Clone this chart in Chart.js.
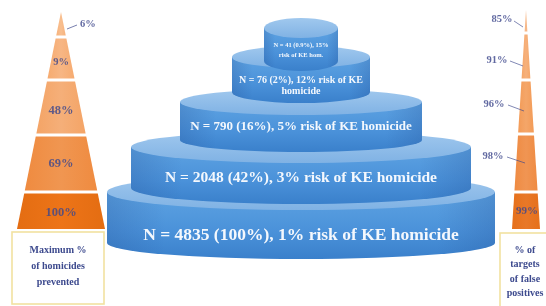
<!DOCTYPE html>
<html>
<head>
<meta charset="utf-8">
<script src="https://cdn.jsdelivr.net/npm/chart.js@4.4.1/dist/chart.umd.min.js"></script>
<style>
  html, body { margin: 0; padding: 0; background: #fff; }
  #wrap { width: 546px; height: 306px; }
</style>
</head>
<body>
<div id="wrap"><canvas id="chart"></canvas></div>
<script>
// tiers, bottom to top
const tierN = [4835, 2048, 790, 76, 41];
const tierShare = ["100%", "42%", "16%", "2%", "0.9%"];
const tierRisk = [1, 3, 5, 12, 15];
// funnels, bottom to top
const preventedPct = [100, 69, 48, 9, 6];
const falsePosPct = [99, 98, 96, 91, 85];
const leftBoxLines = ["Maximum %", "of homicides", "prevented"];
const rightBoxLines = ["% of", "targets", "of false", "positives"];

// text of each tier (the two small ones wrap)
const tierLines = tierN.map((n, i) => {
  const head = "N = " + n + " (" + tierShare[i] + "), " + tierRisk[i] + "%";
  if (i === 4) return [head, "risk of KE hom."];
  if (i === 3) return [head + " risk of KE", "homicide"];
  return [head + " risk of KE homicide"];
});

// layout (chart units, the axes run 0..546 and 0..306)
const cyl = {
  cx: 301,
  half: [194, 170, 121, 69, 37],
  top: [192, 147, 102, 57, 28],
  bot: [243, 188, 140, 92, 61],
  ry: [18, 16, 13, 11, 10],
  font: [17.5, 15.5, 13, 10, 6.5],
  textY: [[235], [178], [127], [80, 91], [45, 55]]
};
const leftFunnel = {
  cx: 61, apex: 12, bottom: 229, half: 44,
  edges: [229, 192, 135, 80, 37, 12],
  colors: ["#e46d12", "#ef8b40", "#f4a466", "#f6ab70", "#f7b27b"],
  labelY: [213, 164, 111, 62, 24],
  box: [12, 232, 92, 72], boxTextY: [250, 266, 282]
};
const rightFunnel = {
  cx: 526, apex: 10, bottom: 229, half: 14,
  edges: [229, 192, 134, 80, 33, 10],
  colors: ["#e6701a", "#ef8b42", "#f39b57", "#f5a668", "#f6b07a"],
  labelX: [527, 493, 494, 497, 502], labelY: [211, 156, 104, 60, 19],
  leader: [null, [507, 157, 525, 163], [508, 105, 524, 111], [510, 61, 523, 66], [514, 21, 523, 27]],
  box: [500, 233, 50, 78], boxTextY: [250, 264, 279, 293]
};

const serif = '"Liberation Serif", "DejaVu Serif", serif';

function drawFunnel(ctx, X, Y, f, values, isLeft) {
  const halfAt = y => f.half * (y - f.apex) / (f.bottom - f.apex);
  for (let i = 0; i < values.length; i++) {
    const yb = f.edges[i] - (i === 0 ? 0 : 1.5);
    const yt = f.edges[i + 1] + (i === values.length - 1 ? 0 : 1.5);
    const hb = halfAt(yb), ht = halfAt(yt);
    const g = ctx.createLinearGradient(X(f.cx - hb), 0, X(f.cx + hb), 0);
    g.addColorStop(0, f.colors[i]);
    g.addColorStop(0.5, Chart.helpers.color(f.colors[i]).lighten(0.06).hexString());
    g.addColorStop(1, f.colors[i]);
    ctx.fillStyle = g;
    ctx.beginPath();
    ctx.moveTo(X(f.cx - ht), Y(yt));
    ctx.lineTo(X(f.cx + ht), Y(yt));
    ctx.lineTo(X(f.cx + hb), Y(yb));
    ctx.lineTo(X(f.cx - hb), Y(yb));
    ctx.closePath();
    ctx.fill();
  }
  // labels
  ctx.fillStyle = "rgba(62,72,140,0.82)";
  ctx.textBaseline = "middle";
  values.forEach((v, i) => {
    const size = i >= 3 ? 10.5 : 12.5;
    ctx.font = "bold " + size + "px " + serif;
    if (isLeft) {
      if (i === 4) {
        ctx.textAlign = "left";
        ctx.fillText(v + "%", X(f.cx + 19), Y(f.labelY[i]));
        ctx.strokeStyle = "rgba(62,72,140,0.7)";
        ctx.lineWidth = 1;
        ctx.beginPath();
        ctx.moveTo(X(f.cx + 6), Y(29));
        ctx.lineTo(X(f.cx + 16), Y(25));
        ctx.stroke();
      } else {
        ctx.textAlign = "center";
        ctx.fillText(v + "%", X(f.cx), Y(f.labelY[i]));
      }
    } else {
      ctx.font = "bold " + (i === 0 ? 11 : 10.5) + "px " + serif;
      ctx.textAlign = "center";
      ctx.fillText(v + "%", X(f.labelX[i]), Y(f.labelY[i]));
      const l = f.leader[i];
      if (l) {
        ctx.strokeStyle = "rgba(62,72,140,0.65)";
        ctx.lineWidth = 1;
        ctx.beginPath();
        ctx.moveTo(X(l[0]), Y(l[1]));
        ctx.lineTo(X(l[2]), Y(l[3]));
        ctx.stroke();
      }
    }
  });
}

function drawBox(ctx, X, Y, f, lines) {
  const [bx, by, bw, bh] = f.box;
  ctx.fillStyle = "#ffffff";
  ctx.fillRect(X(bx), Y(by), X(bx + bw) - X(bx), Y(by + bh) - Y(by));
  ctx.strokeStyle = "#f2e2a0";
  ctx.lineWidth = 1.6;
  ctx.strokeRect(X(bx), Y(by), X(bx + bw) - X(bx), Y(by + bh) - Y(by));
  ctx.fillStyle = "#3d4a8e";
  ctx.font = "bold 10px " + serif;
  ctx.textAlign = "center";
  ctx.textBaseline = "middle";
  lines.forEach((t, i) => ctx.fillText(t, X(bx + bw / 2), Y(f.boxTextY[i])));
}

function drawCylinder(ctx, X, Y, i) {
  const cx = X(cyl.cx);
  const hw = X(cyl.cx + cyl.half[i]) - cx;
  const top = Y(cyl.top[i]), bot = Y(cyl.bot[i]);
  const ry = Y(cyl.ry[i]) - Y(0);
  const ryb = Math.min(ry, Y(12) - Y(0) + (i < 2 ? 4 : 0));
  // side
  const gv = ctx.createLinearGradient(0, top, 0, bot + ryb);
  gv.addColorStop(0, "#5ea3e2");
  gv.addColorStop(0.6, "#4a91d9");
  gv.addColorStop(1, "#3a80cb");
  ctx.fillStyle = gv;
  ctx.beginPath();
  ctx.moveTo(cx - hw, top);
  ctx.lineTo(cx - hw, bot);
  ctx.ellipse(cx, bot, hw, ryb, 0, Math.PI, 0, true);
  ctx.lineTo(cx + hw, top);
  ctx.closePath();
  ctx.fill();
  const gh = ctx.createLinearGradient(cx - hw, 0, cx + hw, 0);
  gh.addColorStop(0, "rgba(30,70,140,0.22)");
  gh.addColorStop(0.15, "rgba(30,70,140,0)");
  gh.addColorStop(0.85, "rgba(30,70,140,0)");
  gh.addColorStop(1, "rgba(30,70,140,0.22)");
  ctx.fillStyle = gh;
  ctx.fill();
  // top face
  const gt = ctx.createLinearGradient(0, top - ry, 0, top + ry);
  gt.addColorStop(0, "#a0c8ee");
  gt.addColorStop(1, "#80b2e4");
  ctx.fillStyle = gt;
  ctx.beginPath();
  ctx.ellipse(cx, top, hw, ry, 0, 0, Math.PI * 2);
  ctx.fill();
  // text
  ctx.fillStyle = "#f4f8fd";
  ctx.font = "bold " + cyl.font[i] + "px " + serif;
  ctx.textAlign = "center";
  ctx.textBaseline = "middle";
  tierLines[i].forEach((t, k) => ctx.fillText(t, cx, Y(cyl.textY[i][k])));
}

const infographic = {
  id: "infographic",
  afterDatasetsDraw(chart) {
    const ctx = chart.ctx;
    const X = v => chart.scales.x.getPixelForValue(v);
    const Y = v => chart.scales.y.getPixelForValue(v);
    ctx.save();
    drawFunnel(ctx, X, Y, leftFunnel, preventedPct, true);
    drawBox(ctx, X, Y, leftFunnel, leftBoxLines);
    drawFunnel(ctx, X, Y, rightFunnel, falsePosPct, false);
    drawBox(ctx, X, Y, rightFunnel, rightBoxLines);
    for (let i = 0; i < tierN.length; i++) drawCylinder(ctx, X, Y, i);
    ctx.restore();
  }
};

new Chart("chart", {
  type: "scatter",
  data: { datasets: [] },
  options: {
    responsive: true,
    maintainAspectRatio: false,
    animation: false,
    layout: { padding: 0 },
    plugins: { legend: { display: false }, tooltip: { enabled: false } },
    scales: {
      x: { type: "linear", min: 0, max: 546, display: false },
      y: { type: "linear", min: 0, max: 306, reverse: true, display: false }
    }
  },
  plugins: [infographic]
});
</script>
</body>
</html>
